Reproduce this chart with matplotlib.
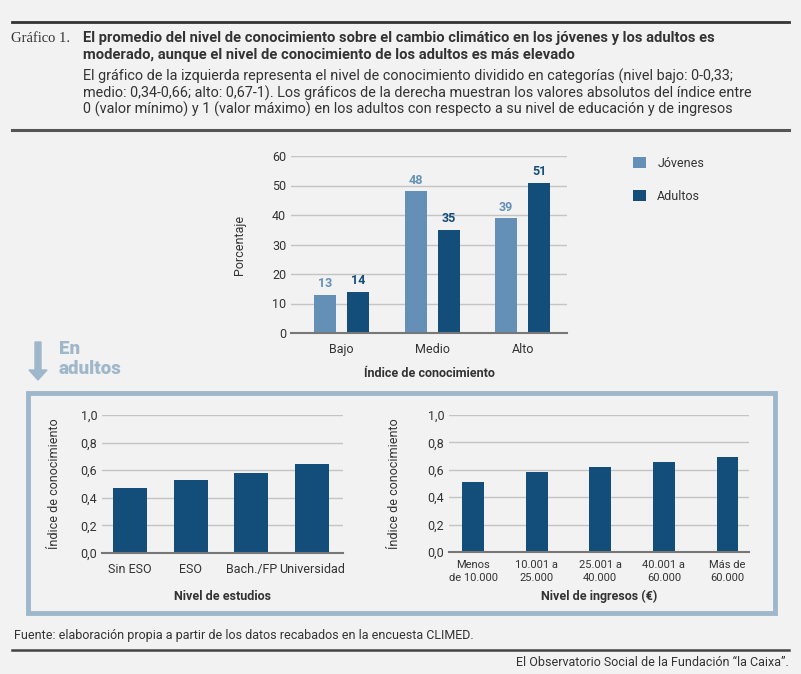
import matplotlib
matplotlib.use("Agg")
import matplotlib.pyplot as plt
import numpy as np
from matplotlib.patches import Rectangle, FancyArrow
from matplotlib.lines import Line2D

plt.rcParams['font.family'] = ['Roboto', 'DejaVu Sans']

# Data
niveles = ['Bajo', 'Medio', 'Alto']
jovenes = [13, 48, 39]
adultos = [14, 35, 51]

estudios = ['Sin ESO', 'ESO', 'Bach./FP', 'Universidad']
indice_estudios = [0.47, 0.53, 0.58, 0.645]

ingresos = ['Menos\nde 10.000', '10.001 a\n25.000', '25.001 a\n40.000',
            '40.001 a\n60.000', 'Más de\n60.000']
indice_ingresos = [0.51, 0.585, 0.62, 0.66, 0.695]

BG = '#f2f2f2'
LIGHT = '#6490b7'
DARK = '#134e7a'
FRAME = '#9fb7ca'
TXT = '#333333'
GRID = '#c4c4c4'

W, H = 801, 674
fig = plt.figure(figsize=(W / 100, H / 100), dpi=100, facecolor=BG)


def rect(l, r, top, bottom):
    return [l / W, 1 - bottom / H, (r - l) / W, (bottom - top) / H]


def ftext(x, y, s, **kw):
    kw.setdefault('color', TXT)
    fig.text(x / W, 1 - y / H, s, **kw)


def hline(x0, x1, y, lw, color):
    fig.add_artist(Line2D([x0 / W, x1 / W], [1 - y / H, 1 - y / H],
                          lw=lw, color=color, transform=fig.transFigure))


def style(ax, ymax, step, fmt):
    ax.set_facecolor(BG)
    ax.set_ylim(0, ymax)
    ticks = np.arange(0, ymax + step / 2, step)
    ax.set_yticks(ticks)
    ax.set_yticklabels([fmt(t) for t in ticks])
    for s in ['top', 'right', 'left']:
        ax.spines[s].set_visible(False)
    ax.spines['bottom'].set_color('#777777')
    ax.spines['bottom'].set_linewidth(1.5)
    ax.yaxis.grid(True, color=GRID, lw=1)
    ax.set_axisbelow(True)
    ax.tick_params(length=0, colors=TXT, labelsize=9)


# Header
hline(12, 789, 22, 2, '#333333')
ftext(11, 38, 'Gráfico 1.', family='Liberation Serif', fontsize=10.5, va='center')
ftext(83, 38, 'El promedio del nivel de conocimiento sobre el cambio climático en los jóvenes y los adultos es',
      fontsize=10.6, weight='bold', va='center')
ftext(83, 55, 'moderado, aunque el nivel de conocimiento de los adultos es más elevado',
      fontsize=10.6, weight='bold', va='center')
sub = 10.4
ftext(83, 76, 'El gráfico de la izquierda representa el nivel de conocimiento dividido en categorías (nivel bajo: 0-0,33;',
      fontsize=sub, va='center')
ftext(83, 93, 'medio: 0,34-0,66; alto: 0,67-1). Los gráficos de la derecha muestran los valores absolutos del índice entre',
      fontsize=sub, va='center')
ftext(83, 109, '0 (valor mínimo) y 1 (valor máximo) en los adultos con respecto a su nivel de educación y de ingresos',
      fontsize=sub, va='center')
hline(12, 789, 130, 2.2, '#555555')

# Top chart
ax = fig.add_axes(rect(291, 567, 156, 333))
x = np.arange(len(niveles))
off, bw = 0.182, 0.243
ax.bar(x - off, jovenes, bw, color=LIGHT, label='Jóvenes')
ax.bar(x + off, adultos, bw, color=DARK, label='Adultos')
for i in range(len(niveles)):
    ax.text(x[i] - off, jovenes[i] + 1.5, str(jovenes[i]), ha='center', va='bottom',
            color=LIGHT, fontsize=9, weight='bold')
    ax.text(x[i] + off, adultos[i] + 1.5, str(adultos[i]), ha='center', va='bottom',
            color=DARK, fontsize=9, weight='bold')
style(ax, 60, 10, lambda t: f'{int(t)}')
ax.set_xlim(-0.56, 2.49)
ax.set_xticks(x)
ax.set_xticklabels(niveles)
ax.tick_params(axis='x', pad=7)
ax.set_xlabel('Índice de conocimiento', fontsize=9, weight='bold', color=TXT, labelpad=8)
ax.set_ylabel('Porcentaje', fontsize=9, color=TXT, labelpad=19)
ax.legend(loc='upper left', bbox_to_anchor=(1.2, 1.06), frameon=False, fontsize=9,
          handlelength=1, handleheight=1, labelspacing=1.6, handletextpad=0.9,
          labelcolor=TXT)

# En adultos
fig.add_artist(FancyArrow(38 / W, 1 - 342 / H, 0, -28 / H, width=6 / W,
                          head_width=18 / W, head_length=10 / H, color=FRAME,
                          transform=fig.transFigure, length_includes_head=False))
ftext(59, 349, 'En', fontsize=13.5, weight='black', color=FRAME, va='center')
ftext(59, 369, 'adultos', fontsize=13.5, weight='black', color=FRAME, va='center')
fig.add_artist(Rectangle((28 / W, 1 - 613 / H), (775 - 28) / W, (613 - 393) / H,
                         fill=False, lw=3.5, edgecolor=FRAME, transform=fig.transFigure))

comma = lambda t: f'{t:.1f}'.replace('.', ',')

# Bottom-left chart
ax1 = fig.add_axes(rect(102, 343, 415, 553))
x1 = np.arange(len(estudios))
ax1.bar(x1, indice_estudios, 0.56, color=DARK)
style(ax1, 1.0, 0.2, comma)
ax1.set_xlim(-0.46, 3.51)
ax1.set_xticks(x1)
ax1.set_xticklabels(estudios)
ax1.tick_params(axis='x', pad=7)
ax1.set_xlabel('Nivel de estudios', fontsize=9, weight='bold', color=TXT, labelpad=10)
ax1.set_ylabel('Índice de conocimiento', fontsize=9, color=TXT, labelpad=14)

# Bottom-right chart
ax2 = fig.add_axes(rect(449, 749, 415, 552))
x2 = np.arange(len(ingresos))
ax2.bar(x2, indice_ingresos, 0.34, color=DARK)
style(ax2, 1.0, 0.2, comma)
ax2.set_xlim(-0.38, 4.34)
ax2.set_xticks(x2)
ax2.set_xticklabels(ingresos, fontsize=8, linespacing=1.3)
ax2.tick_params(axis='x', pad=6)
ax2.set_xlabel('Nivel de ingresos (€)', fontsize=9, weight='bold', color=TXT, labelpad=5)
ax2.set_ylabel('Índice de conocimiento', fontsize=9, color=TXT, labelpad=19)

# Footer
ftext(14, 636, 'Fuente: elaboración propia a partir de los datos recabados en la encuesta CLIMED.',
      fontsize=9, va='center')
hline(12, 789, 650, 1.8, '#444444')
ftext(789, 662, 'El Observatorio Social de la Fundación “la Caixa”.',
      fontsize=9, va='center', ha='right')

fig.savefig('out.png', dpi=100, facecolor=BG)
